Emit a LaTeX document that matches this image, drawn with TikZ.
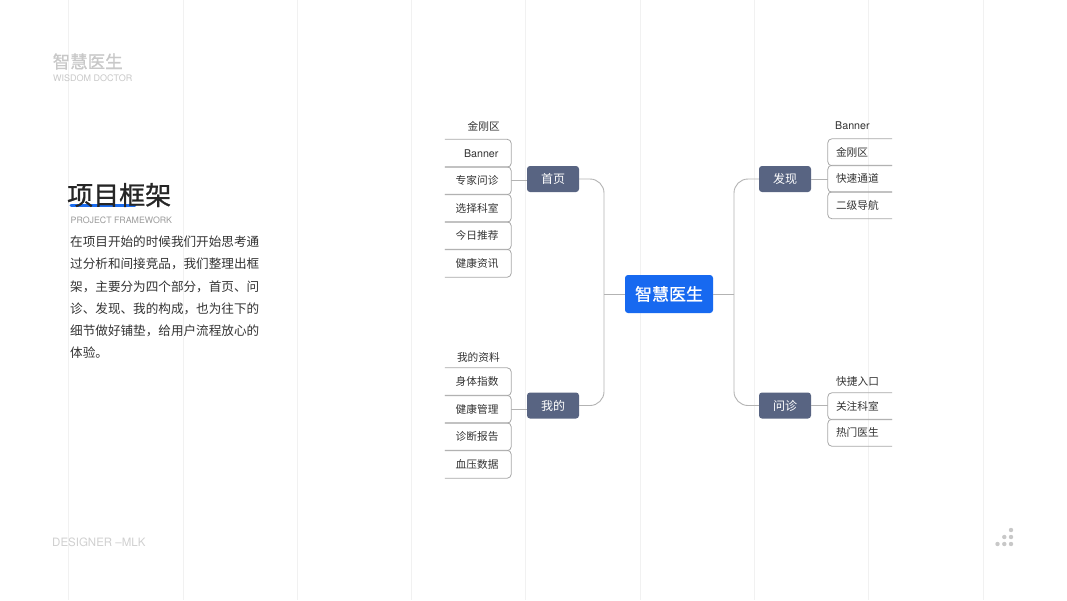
\documentclass[tikz,border=0pt]{standalone}
\usepackage{fontspec}
\setmainfont{Noto Sans CJK SC}
\newfontfamily\cjkm[FakeBold=0.9]{Noto Sans CJK SC}
\newfontfamily\heros{TeX Gyre Heros}
\definecolor{gridc}{HTML}{F1F1F1}
\definecolor{catc}{HTML}{586482}
\definecolor{rootc}{HTML}{1769F0}
\definecolor{txt}{HTML}{333333}
\definecolor{linec}{HTML}{B3B3B3}
\definecolor{boxc}{HTML}{A8A8A8}
\definecolor{lightg}{HTML}{C8C8C8}
\definecolor{midg}{HTML}{9A9A9A}
\definecolor{blueline}{HTML}{1A6CF0}
\begin{document}
\begin{tikzpicture}[x=1pt,y=-1pt,
  grid/.style={draw=gridc,line width=0.8pt},
  cat/.style={fill=catc,rounded corners=3pt,minimum width=52pt,minimum height=26pt,inner sep=0pt,text=white,font=\fontsize{12}{14}\selectfont},
  root/.style={fill=rootc,rounded corners=3pt,minimum width=88pt,minimum height=38pt,inner sep=0pt,text=white,font=\cjkm\fontsize{17}{20}\selectfont},
  lbox/.style={minimum height=27.5pt,text width=66pt,inner sep=0pt,align=right,text=txt,font=\fontsize{10.7}{12}\selectfont},
  rbox/.style={minimum height=26.5pt,text width=64pt,inner sep=0pt,align=left,text=txt,font=\fontsize{10.7}{12}\selectfont},
  lbl/.style={inner sep=0pt,text=txt,font=\fontsize{10.7}{12}\selectfont},
  boxline/.style={draw=boxc,line width=0.8pt,rounded corners=4pt},
  conn/.style={draw=linec,line width=0.9pt},
  para/.style={anchor=west,inner sep=0pt,text=txt,font=\fontsize{12.6}{14}\selectfont},
  dot/.style={fill=lightg,draw=none}
]
\useasboundingbox[fill=white] (0,0) rectangle (1067,600);
\foreach \i in {0,...,8} \draw[grid] (68.6+114.3*\i,0) -- (68.6+114.3*\i,600);

% header
\node[anchor=west,inner sep=0pt,text=lightg,font=\cjkm\fontsize{17.5}{20}\selectfont] (hd) at (52.5,61.5) {智慧医生};
\node[anchor=west,inner sep=0pt,text=lightg,font=\heros\fontsize{9}{10}\selectfont] (hdsub) at (53,78) {WISDOM DOCTOR};

% title
\draw[blueline,line width=3pt,line cap=round] (71,205.5) -- (135,205.5);
\node[anchor=west,inner sep=0pt,text=black!85,font=\cjkm\fontsize{26}{30}\selectfont] (title) at (67,195) {项目框架};
\node[anchor=west,inner sep=0pt,text=midg,font=\heros\fontsize{8.8}{10}\selectfont] (tsub) at (70.5,220) {PROJECT FRAMEWORK};

\node[para] (p1) at (70,242) {在项目开始的时候我们开始思考通};
\node[para] (p2) at (70,264.2) {过分析和间接竞品，我们整理出框};
\node[para] (p3) at (70,286.4) {架，主要分为四个部分，首页、问};
\node[para] (p4) at (70,308.6) {诊、发现、我的构成，也为往下的};
\node[para] (p5) at (70,330.8) {细节做好铺垫，给用户流程放心的};
\node[para] (p6) at (70,353) {体验。};

\node[anchor=west,inner sep=0pt,text=lightg!85,font=\heros\fontsize{11.5}{13}\selectfont] (designer) at (52,542) {DESIGNER –MLK};

% dots
\fill[dot] (1011,530) circle (2.2);
\fill[dot] (1004.3,537) circle (2.2);
\fill[dot] (1011,537) circle (2.2);
\fill[dot] (997.5,544) circle (2.2);
\fill[dot] (1004.3,544) circle (2.2);
\fill[dot] (1011,544) circle (2.2);

% root and categories
\node[root] (root) at (669,294) {智慧医生};
\node[cat] (sy) at (553,179) {首页};
\node[cat] (wd) at (553,405.5) {我的};
\node[cat] (fx) at (785,179) {发现};
\node[cat] (wz) at (785,405.5) {问诊};

\coordinate (lj) at (604,294);
\coordinate (rj) at (734,294);
\draw[conn,rounded corners=14pt] (sy.east) -| (lj) |- (wd.east);
\draw[conn] (lj) -- (root.west);
\draw[conn,rounded corners=14pt] (fx.west) -| (rj) |- (wz.west);
\draw[conn] (rj) -- (root.east);

% 首页 children
\node[lbl,anchor=east] (sy0) at (500,126) {金刚区};
\node[lbox] (sy1) at (478,153.25) {{\heros Banner}\hspace*{12.5pt}};
\node[lbox] (sy2) at (478,180.75) {专家问诊\hspace*{12.5pt}};
\node[lbox] (sy3) at (478,208.25) {选择科室\hspace*{12.5pt}};
\node[lbox] (sy4) at (478,235.75) {今日推荐\hspace*{12.5pt}};
\node[lbox] (sy5) at (478,263.25) {健康资讯\hspace*{12.5pt}};
\foreach \n in {sy1,sy2,sy3,sy4,sy5}
  \draw[boxline] (\n.north west) -- (\n.north east) -- (\n.south east) -- (\n.south west);
\draw[conn] (sy2.east) -- (sy2.east -| sy.west);

% 我的 children
\node[lbl,anchor=east] (wd0) at (500,357) {我的资料};
\node[lbox] (wd1) at (478,381.75) {身体指数\hspace*{12.5pt}};
\node[lbox] (wd2) at (478,409.25) {健康管理\hspace*{12.5pt}};
\node[lbox] (wd3) at (478,436.75) {诊断报告\hspace*{12.5pt}};
\node[lbox] (wd4) at (478,464.25) {血压数据\hspace*{12.5pt}};
\foreach \n in {wd1,wd2,wd3,wd4}
  \draw[boxline] (\n.north west) -- (\n.north east) -- (\n.south east) -- (\n.south west);
\draw[conn] (wd2.east) -- (wd2.east -| wd.west);

% 发现 children
\node[lbl,anchor=west,font=\heros\fontsize{10.7}{12}\selectfont] (fx0) at (835,126) {Banner};
\node[rbox] (fx1) at (860,152.25) {\hspace*{8pt}金刚区};
\node[rbox] (fx2) at (860,178.75) {\hspace*{8pt}快速通道};
\node[rbox] (fx3) at (860,205.25) {\hspace*{8pt}二级导航};
\foreach \n in {fx1,fx2,fx3}
  \draw[boxline] (\n.north east) -- (\n.north west) -- (\n.south west) -- (\n.south east);
\draw[conn] (fx.east) -- (fx.east -| fx2.west);

% 问诊 children
\node[lbl,anchor=west] (wz0) at (836,381) {快捷入口};
\node[rbox] (wz1) at (860,406.25) {\hspace*{8pt}关注科室};
\node[rbox] (wz2) at (860,432.75) {\hspace*{8pt}热门医生};
\foreach \n in {wz1,wz2}
  \draw[boxline] (\n.north east) -- (\n.north west) -- (\n.south west) -- (\n.south east);
\draw[conn] (wz.east) -- (wz.east -| wz1.west);
\end{tikzpicture}
\end{document}
